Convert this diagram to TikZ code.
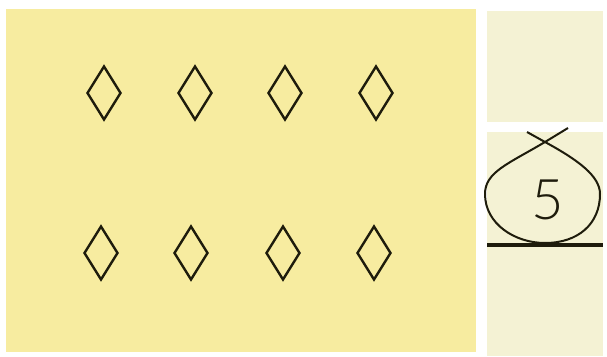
\documentclass[tikz,border=0pt]{standalone}
\usepackage{fontspec}
\setmainfont{Liberation Sans}
\newfontfamily\thinfont{Lato Light}
\usetikzlibrary{shapes.geometric}
\definecolor{mainyellow}{RGB}{247,236,160}
\definecolor{paleyellow}{RGB}{244,242,212}
\definecolor{ink}{RGB}{30,28,12}
\tikzset{
  gem/.style={draw=ink, line width=2.4pt, diamond, minimum width=34pt, minimum height=54pt, inner sep=0pt},
}
\begin{document}
\begin{tikzpicture}[x=1pt,y=-1pt]
\useasboundingbox (0,0) rectangle (607,356);
\fill[white] (0,0) rectangle (607,356);
\fill[mainyellow] (6,9) rectangle (476,352);
\fill[paleyellow] (487,11) rectangle (603,122);
\fill[paleyellow] (487,132) rectangle (603,356);
% diamonds
\node[gem] (t1) at (104,93) {};
\node[gem] (t2) at (195,93) {};
\node[gem] (t3) at (285,93) {};
\node[gem] (t4) at (376,93) {};
\node[gem] (b1) at (101,253) {};
\node[gem] (b2) at (191,253) {};
\node[gem] (b3) at (283,253) {};
\node[gem] (b4) at (374,253) {};
% loop symbol
\draw[ink, line width=2pt] (568,128) -- (545,142)
  .. controls (508,164) and (485,172) .. (485,194)
  .. controls (485,224) and (515,243) .. (545,243)
  .. controls (578,243) and (600,224) .. (600,194)
  .. controls (600,176) and (578,160) .. (545,142) -- (527,132);
\draw[ink, line width=3.5pt] (487,245) -- (603,245);
\node[ink, font=\thinfont\fontsize{56}{56}\selectfont, inner sep=0pt] (five) at (548,200) {5};
\end{tikzpicture}
\end{document}
